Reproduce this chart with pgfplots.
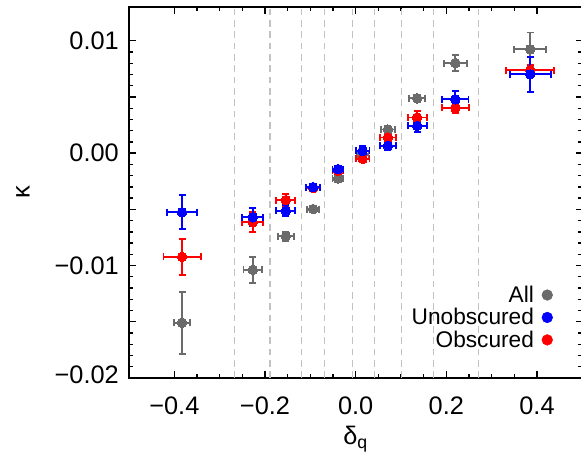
\documentclass[border=0pt]{standalone}
\usepackage{fontspec}
\setmainfont{Liberation Sans}
\usepackage{pgfplots}
\pgfplotsset{compat=1.18}
\usepackage{pgfplotstable}
\definecolor{allc}{rgb}{0.42,0.42,0.42}
\definecolor{dashc}{rgb}{0.76,0.76,0.76}
\definecolor{unobc}{rgb}{0,0,1}
\definecolor{obsc}{rgb}{1,0,0}

\pgfplotstableread{
x y ex ey
-0.383 -0.01508 0.017 0.00275
-0.227 -0.01038 0.0205 0.00114
-0.154 -0.0074 0.018 0.0004
-0.094 -0.00497 0.014 0.0003
-0.039 -0.00225 0.012 0.0003
0.0154 -0.0001 0.013 0.0003
0.071 0.0021 0.016 0.0003
0.1355 0.00488 0.018 0.0003
0.220 0.00801 0.026 0.00074
0.385 0.00923 0.035 0.0015
}\allt

\pgfplotstableread{
x y ex ey
-0.383 -0.00923 0.041 0.0016
-0.227 -0.00615 0.0235 0.0009
-0.154 -0.00417 0.021 0.00055
-0.094 -0.0031 0.015 0.0003
-0.039 -0.00157 0.012 0.0003
0.0154 -0.0005 0.015 0.0003
0.071 0.00139 0.018 0.0004
0.1355 0.00317 0.021 0.0006
0.220 0.00405 0.030 0.0005
0.385 0.00736 0.053 0.0005
}\obst

\pgfplotstableread{
x y ex ey
-0.383 -0.00526 0.033 0.0015
-0.227 -0.0057 0.0235 0.0008
-0.154 -0.00512 0.021 0.0005
-0.094 -0.00302 0.015 0.0003
-0.039 -0.00142 0.012 0.0003
0.0154 0.0002 0.015 0.0004
0.071 0.00065 0.018 0.0004
0.1355 0.00242 0.021 0.0005
0.220 0.00479 0.029 0.00077
0.385 0.00701 0.045 0.00155
}\unobt

\pgfplotsset{
  errstyle/.style={
    only marks, mark=*, mark size=3.6pt,
    color=#1, mark options={draw=#1, fill=#1, line width=0pt},
    error bars/.cd,
      x dir=both, x explicit, y dir=both, y explicit,
      error bar style={line width=1.4pt, #1},
      error mark=|,
      error mark options={line width=1.4pt, mark size=2.6pt, #1},
    /pgfplots/.cd,
  },
}

\begin{document}
\begin{tikzpicture}
\begin{axis}[name=ax,
  scale only axis, width=340pt, height=278.25pt,
  xmin=-0.5, xmax=0.5, ymin=-0.02, ymax=0.013,
  xtick={-0.4,-0.2,0,0.2,0.4},
  xticklabels={−0.4,−0.2,0.0,0.2,0.4},
  minor x tick num=3,
  ytick={-0.02,-0.015,-0.01,-0.005,0,0.005,0.01},
  yticklabels={\raisebox{5pt}{−0.02},,−0.01,,0.00,,0.01},
  minor y tick num=4,
  scaled x ticks=false, scaled y ticks=false,
  tick align=inside, tick pos=both,
  major tick length=5pt, minor tick length=3pt,
  every tick/.style={black, line width=1pt},
  axis line style={line width=1.2pt},
  ticklabel style={font=\fontsize{19}{22}\selectfont},
  xticklabel style={anchor=base, yshift=-27pt},
  yticklabel style={anchor=east, inner sep=0pt, xshift=-7.5pt},
  xlabel={δ\textsubscript{q}}, ylabel={κ},
  every axis x label/.style={at={(axis description cs:0.5,0)}, anchor=base, yshift=-50pt, font=\fontsize{19}{22}\selectfont},
  every axis y label/.style={at={(axis description cs:-0.2337,0.5)}, anchor=center, rotate=90, font=\fontsize{19}{22}\selectfont},
  legend style={at={(0.935,0.07)}, anchor=south east, draw=none, fill=none,
    font=\fontsize{17}{19}\selectfont, inner sep=0pt, row sep=-1pt,
    /tikz/every odd column/.append style={column sep=4pt}},
  legend cell align=right, legend plot pos=right,
]
% bin boundaries
\addplot[dashc, line width=0.8pt, dash pattern=on 5pt off 3.5pt, forget plot] coordinates {(-0.268,-0.02) (-0.268,0.013)};
\addplot[dashc, line width=0.8pt, dash pattern=on 5pt off 3.5pt, forget plot] coordinates {(-0.189,-0.02) (-0.189,0.013)};
\addplot[dashc, line width=0.8pt, dash pattern=on 5pt off 3.5pt, forget plot] coordinates {(-0.119,-0.02) (-0.119,0.013)};
\addplot[dashc, line width=0.8pt, dash pattern=on 5pt off 3.5pt, forget plot] coordinates {(-0.068,-0.02) (-0.068,0.013)};
\addplot[dashc, line width=0.8pt, dash pattern=on 5pt off 3.5pt, forget plot] coordinates {(-0.007,-0.02) (-0.007,0.013)};
\addplot[dashc, line width=0.8pt, dash pattern=on 5pt off 3.5pt, forget plot] coordinates {(0.041,-0.02) (0.041,0.013)};
\addplot[dashc, line width=0.8pt, dash pattern=on 5pt off 3.5pt, forget plot] coordinates {(0.101,-0.02) (0.101,0.013)};
\addplot[dashc, line width=0.8pt, dash pattern=on 5pt off 3.5pt, forget plot] coordinates {(0.171,-0.02) (0.171,0.013)};
\addplot[dashc, line width=0.8pt, dash pattern=on 5pt off 3.5pt, forget plot] coordinates {(0.270,-0.02) (0.270,0.013)};
% data
\addplot[forget plot, errstyle=allc] table[x=x, y=y, x error=ex, y error=ey]{\allt};
\addplot[forget plot, errstyle=obsc] table[x=x, y=y, x error=ex, y error=ey]{\obst};
\addplot[forget plot, errstyle=unobc] table[x=x, y=y, x error=ex, y error=ey]{\unobt};
% legend
\addlegendimage{only marks, mark=*, mark size=4pt, allc, mark options={fill=allc, draw=allc}}
\addlegendentry{All}
\addlegendimage{only marks, mark=*, mark size=4pt, unobc, mark options={fill=unobc, draw=unobc}}
\addlegendentry{Unobscured}
\addlegendimage{only marks, mark=*, mark size=4pt, obsc, mark options={fill=obsc, draw=obsc}}
\addlegendentry{Obscured}
\end{axis}
\pgfresetboundingbox
\path[use as bounding box] (ax.south west) ++(-96.75pt,-57.75pt) rectangle ++(435.75pt,341.25pt);
\end{tikzpicture}
\end{document}
